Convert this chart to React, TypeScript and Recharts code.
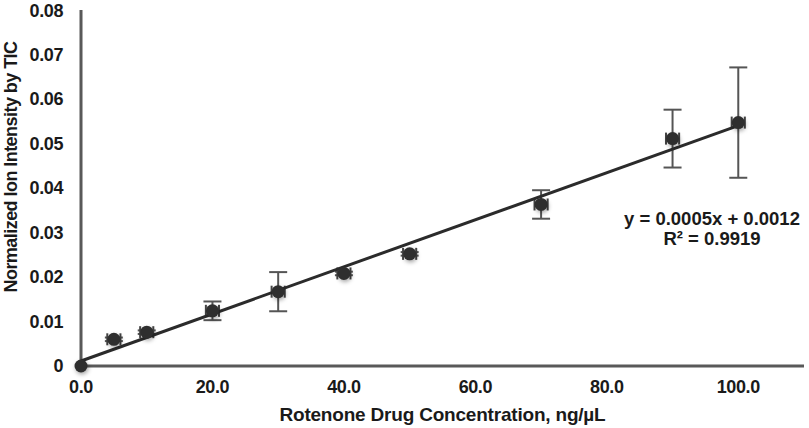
import React from 'react'
import { ScatterChart, Scatter, XAxis, YAxis, ErrorBar } from 'recharts'

// values
const concentration = [0, 5, 10, 20, 30, 40, 50, 70, 90, 100]
const intensity = [0, 0.006, 0.0076, 0.0124, 0.0167, 0.0208, 0.0252, 0.0363, 0.0511, 0.0547]
const intensityErr = [0, 0.0004, 0.0004, 0.0021, 0.0044, 0.0004, 0.0004, 0.0032, 0.0065, 0.0124]
const concentrationErr = [0, 1, 1, 1, 1, 1, 1, 1, 1, 1]

const xTicks = [0, 20, 40, 60, 80, 100]
const yTicks = [0, 0.01, 0.02, 0.03, 0.04, 0.05, 0.06, 0.07, 0.08]
const equationText = 'y = 0.0005x + 0.0012'
const rSquaredText = 'R² = 0.9919'

const points = concentration.map((x, i) => ({
  x,
  y: intensity[i],
  yErr: intensityErr[i],
  xErr: concentrationErr[i],
}))

// least squares trendline through the measured points
const n = concentration.length
const meanX = concentration.reduce((a, b) => a + b, 0) / n
const meanY = intensity.reduce((a, b) => a + b, 0) / n
let sxy = 0
let sxx = 0
concentration.forEach((x, i) => {
  sxy += (x - meanX) * (intensity[i] - meanY)
  sxx += (x - meanX) * (x - meanX)
})
const slope = sxy / sxx
const intercept = meanY - slope * meanX
const xMin = Math.min(...concentration)
const xMax = Math.max(...concentration)
const trend = [
  { x: xMin, y: slope * xMin + intercept },
  { x: xMax, y: slope * xMax + intercept },
]

const FONT = '"Liberation Sans", Arial, sans-serif'
const AXIS = '#595959'
const TEXT = '#1a1a1a'
const tickStyle = { fill: TEXT, fontFamily: FONT, fontWeight: 'bold', fontSize: 18, letterSpacing: -0.4 }

const Marker = (props: any) => {
  const { cx, cy } = props
  if (cx == null || cy == null) return null
  return (
    <circle
      cx={cx}
      cy={cy}
      r={6.5}
      fill="#2e2e2e"
      style={{ filter: 'drop-shadow(1px 2px 2px rgba(0,0,0,0.35))' }}
    />
  )
}

const YLabel = (props: any) => {
  const { viewBox } = props
  const x = 10.5
  const y = viewBox.y + viewBox.height / 2 - 21
  return (
    <text
      x={x}
      y={y}
      transform={`rotate(-90, ${x}, ${y})`}
      textAnchor="middle"
      dominantBaseline="central"
      fontFamily={FONT}
      fontWeight="bold"
      fontSize={18}
      letterSpacing={-0.55}
      fill={TEXT}
    >
      Normalized Ion Intensity by TIC
    </text>
  )
}

export default function App() {
  return (
    <div style={{ position: 'absolute', left: 0, top: 0, width: 809, height: 428 }}>
      <ScatterChart width={809} height={428} margin={{ top: 10, right: 5, bottom: 0, left: 0 }}>
        <XAxis
          type="number"
          dataKey="x"
          domain={[0, 110]}
          ticks={xTicks}
          tickFormatter={(v: number) => v.toFixed(1)}
          tickLine={false}
          tickMargin={8}
          height={62}
          axisLine={{ stroke: AXIS, strokeWidth: 3 }}
          tick={tickStyle}
          label={{
            value: 'Rotenone Drug Concentration, ng/µL',
            position: 'insideBottom',
            offset: 7,
            fill: TEXT,
            fontFamily: FONT,
            fontWeight: 'bold',
            fontSize: 19,
            letterSpacing: -0.2,
          }}
        />
        <YAxis
          type="number"
          dataKey="y"
          domain={[0, 0.08]}
          ticks={yTicks}
          tickFormatter={(v: number) => (v === 0 ? '0' : v.toFixed(2))}
          tickLine={false}
          tickMargin={12}
          width={81}
          axisLine={{ stroke: AXIS, strokeWidth: 3 }}
          tick={tickStyle}
          label={<YLabel />}
        />
        <Scatter
          data={trend}
          line={{ stroke: '#2b2b2b', strokeWidth: 3 }}
          shape={() => null}
          isAnimationActive={false}
        />
        <Scatter data={points} shape={<Marker />} isAnimationActive={false}>
          <ErrorBar dataKey="yErr" direction="y" width={9} stroke="#555" strokeWidth={2} />
          <ErrorBar dataKey="xErr" direction="x" width={6} stroke="#444" strokeWidth={2} />
        </Scatter>
      </ScatterChart>
      <div
        style={{
          position: 'absolute',
          left: 602,
          top: 209,
          width: 220,
          textAlign: 'center',
          fontFamily: FONT,
          fontWeight: 'bold',
          fontSize: 18.5,
          lineHeight: '20px',
          color: TEXT,
        }}
      >
        <div>{equationText}</div>
        <div>{rSquaredText}</div>
      </div>
    </div>
  )
}
